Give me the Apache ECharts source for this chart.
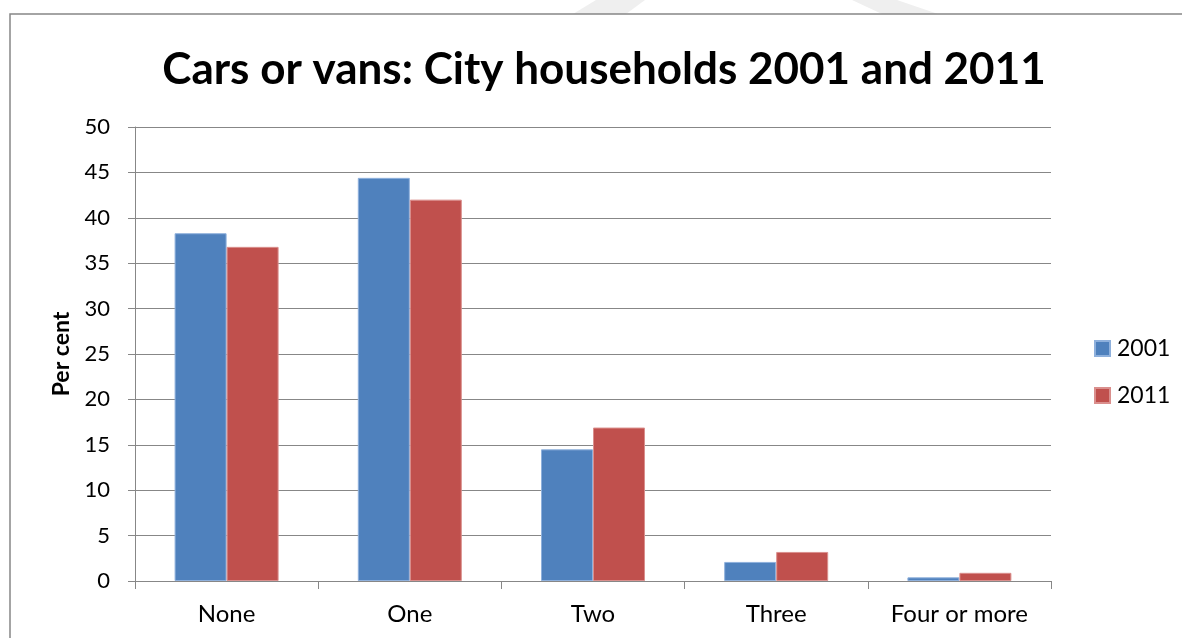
<!DOCTYPE html>
<html>
<head>
<meta charset="utf-8">
<title>Cars or vans: City households 2001 and 2011</title>
<script src="https://cdn.jsdelivr.net/npm/echarts@6/dist/echarts.min.js"></script>
<style>
  html, body { margin: 0; padding: 0; background: #ffffff; }
  #chart { width: 1182px; height: 638px; }
</style>
</head>
<body>
<div id="chart"></div>
<script>
// Number of cars or vans per household, share of city households (%)
const categories = ['None', 'One', 'Two', 'Three', 'Four or more'];
const seriesNames = ['2001', '2011'];
const values2001 = [38.3, 44.4, 14.5, 2.1, 0.4];
const values2011 = [36.8, 42.0, 16.9, 3.2, 0.9];
const yTicks = { min: 0, max: 50, step: 5 };

const FONT = 'Lato, "Open Sans", sans-serif';
const GRID_GREY = '#878787';

const chart = echarts.init(document.getElementById('chart'), null, { renderer: 'canvas' });

chart.setOption({
  backgroundColor: '#ffffff',
  animation: false,
  graphic: [
    // faint watermark strokes above the chart frame
    { type: 'polygon', z: -2, shape: { points: [[596, 0], [645, 0], [626, 14], [573, 14]] }, style: { fill: '#efefef' } },
    { type: 'polygon', z: -2, shape: { points: [[852, 0], [897, 0], [938, 14], [882, 14]] }, style: { fill: '#efefef' } },
    // chart frame
    { type: 'rect', z: -1, shape: { x: 10, y: 14, width: 1200, height: 700 }, style: { fill: '#ffffff', stroke: GRID_GREY, lineWidth: 1.5 } }
  ],
  title: {
    text: 'Cars or vans: City households 2001 and 2011',
    left: 599,
    top: 43,
    textAlign: 'center',
    textStyle: { fontFamily: FONT, fontWeight: 'bold', fontSize: 44, color: '#000000' }
  },
  legend: {
    data: seriesNames,
    orient: 'vertical',
    left: 1089,
    top: 332,
    itemWidth: 15,
    itemHeight: 15,
    itemGap: 24,
    icon: 'rect',
    textStyle: { fontFamily: FONT, fontSize: 23, color: '#000000', padding: [0, 0, 0, 2] }
  },
  grid: { left: 135, right: 131, top: 127, bottom: 57, containLabel: false },
  xAxis: {
    type: 'category',
    data: categories,
    axisLine: { lineStyle: { color: GRID_GREY, width: 1 } },
    axisTick: { show: true, length: 8, lineStyle: { color: GRID_GREY } },
    axisLabel: { fontFamily: FONT, fontSize: 24, color: '#000000', margin: 21 }
  },
  yAxis: {
    type: 'value',
    min: yTicks.min,
    max: yTicks.max,
    interval: yTicks.step,
    name: 'Per cent',
    nameLocation: 'middle',
    nameRotate: 90,
    nameGap: 62,
    nameTextStyle: { fontFamily: FONT, fontWeight: 'bold', fontSize: 23, color: '#000000' },
    axisLine: { show: true, lineStyle: { color: GRID_GREY, width: 1 } },
    axisTick: { show: true, length: 7, lineStyle: { color: GRID_GREY } },
    splitLine: { lineStyle: { color: GRID_GREY, width: 1 } },
    axisLabel: { fontFamily: FONT, fontSize: 22, color: '#000000', margin: 25 }
  },
  series: [
    {
      name: seriesNames[0],
      type: 'bar',
      data: values2001,
      barWidth: 52,
      barGap: '0%',
      itemStyle: { color: '#4F81BD', borderColor: '#8EB0DC', borderWidth: 1 }
    },
    {
      name: seriesNames[1],
      type: 'bar',
      data: values2011,
      barWidth: 52,
      barGap: '0%',
      itemStyle: { color: '#C0504D', borderColor: '#DA8F8D', borderWidth: 1 }
    }
  ]
});
</script>
</body>
</html>
